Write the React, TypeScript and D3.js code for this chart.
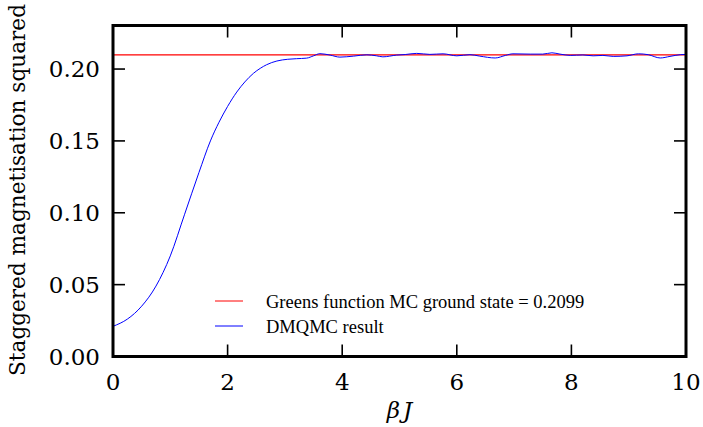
import React, { useEffect, useRef } from "react";
import * as d3 from "d3";

const betaJ = [0, 0.25, 0.5, 0.75, 1.0, 1.25, 1.5, 1.7, 1.85, 2.0, 2.16, 2.3, 2.45, 2.57, 2.68, 2.86, 3.05, 3.2, 3.38, 3.5, 3.61, 3.79, 3.96, 4.2, 4.43, 4.6, 4.71, 4.95, 5.1, 5.3, 5.53, 5.76, 6.0, 6.23, 6.4, 6.67, 6.85, 6.98, 7.28, 7.5, 7.66, 7.8, 7.98, 8.2, 8.38, 8.55, 8.73, 8.97, 9.17, 9.34, 9.55, 9.72, 9.9, 10];
const magSq = [0.021, 0.026, 0.035, 0.049, 0.07, 0.099, 0.128, 0.15, 0.163, 0.174, 0.184, 0.191, 0.197, 0.2005, 0.203, 0.2056, 0.2068, 0.2072, 0.2076, 0.2092, 0.2107, 0.2097, 0.2083, 0.209, 0.2099, 0.2092, 0.2085, 0.2097, 0.2101, 0.2109, 0.2102, 0.2106, 0.2092, 0.21, 0.209, 0.2077, 0.2095, 0.2106, 0.2104, 0.2104, 0.2113, 0.2104, 0.2095, 0.2098, 0.2092, 0.2095, 0.2088, 0.2092, 0.2106, 0.21, 0.2077, 0.2088, 0.21, 0.2102];
const groundState = 0.2099;
const xTicks = [0, 2, 4, 6, 8, 10];
const yTicks = [0, 0.05, 0.1, 0.15, 0.2];
const legendLabels = ["Greens function MC ground state = 0.2099", "DMQMC result"];

const W = 703, H = 427;
const L = 113, R = 686, T = 25.5, B = 356.5;
const FONT = "DejaVu Serif";
const LFONT = "Liberation Serif";

export default function App() {
  const ref = useRef<SVGSVGElement>(null);
  useEffect(() => {
    const svg = d3.select(ref.current);
    svg.selectAll("*").remove();
    const x = d3.scaleLinear().domain([0, 10]).range([L, R]);
    const y = d3.scaleLinear().domain([0, 0.2303]).range([B, T]);

    svg.append("line").attr("x1", x(0)).attr("x2", x(10)).attr("y1", y(groundState)).attr("y2", y(groundState))
      .attr("stroke", "#ff0000").attr("stroke-width", 1.2);

    const pts = betaJ.map((b, i) => [b, magSq[i]] as [number, number]);
    const line = d3.line<[number, number]>().x(d => x(d[0])).y(d => y(d[1])).curve(d3.curveMonotoneX);
    svg.append("path").attr("d", line(pts)).attr("fill", "none").attr("stroke", "#0000ff").attr("stroke-width", 1);

    const tl = 12;
    const g = svg.append("g").attr("stroke", "#000").attr("stroke-width", 1.6);
    xTicks.forEach(t => {
      g.append("line").attr("x1", x(t)).attr("x2", x(t)).attr("y1", B).attr("y2", B - tl);
      g.append("line").attr("x1", x(t)).attr("x2", x(t)).attr("y1", T).attr("y2", T + tl);
    });
    yTicks.forEach(t => {
      g.append("line").attr("x1", L).attr("x2", L + tl).attr("y1", y(t)).attr("y2", y(t));
      g.append("line").attr("x1", R).attr("x2", R - tl).attr("y1", y(t)).attr("y2", y(t));
    });

    svg.append("rect").attr("x", L).attr("y", T).attr("width", R - L).attr("height", B - T)
      .attr("fill", "none").attr("stroke", "#000").attr("stroke-width", 3);

    const fmtY = d3.format(".2f");
    xTicks.forEach(t => {
      svg.append("text").attr("x", x(t)).attr("y", 390).attr("text-anchor", "middle")
        .attr("font-family", FONT).attr("font-size", 23).text(String(t));
    });
    yTicks.forEach(t => {
      svg.append("text").attr("x", 100).attr("y", y(t)).attr("dy", "0.36em").attr("text-anchor", "end")
        .attr("font-family", FONT).attr("font-size", 23).text(fmtY(t));
    });

    const xl = svg.append("text").attr("x", (L + R) / 2).attr("y", 418).attr("text-anchor", "middle")
      .attr("font-family", FONT).attr("font-size", 23).attr("font-style", "italic");
    xl.append("tspan").text("β");
    xl.append("tspan").attr("dx", 3).text("J");
    svg.append("text").attr("transform", `translate(25, 190) rotate(-90)`).attr("text-anchor", "middle")
      .attr("font-family", FONT).attr("font-size", 21.6).text("Staggered magnetisation squared");

    const colors = ["#ff0000", "#0000ff"];
    legendLabels.forEach((lab, i) => {
      const ly = 301 + i * 25;
      svg.append("line").attr("x1", 215).attr("x2", 243).attr("y1", ly).attr("y2", ly)
        .attr("stroke", colors[i]).attr("stroke-width", 1);
      svg.append("text").attr("x", 266).attr("y", ly + 7).attr("font-family", LFONT).attr("font-size", 18.5).text(lab);
    });
  }, []);
  return (
    <svg ref={ref} width={W} height={H} style={{ position: "absolute", left: 0, top: 0, background: "#fff" }} />
  );
}
